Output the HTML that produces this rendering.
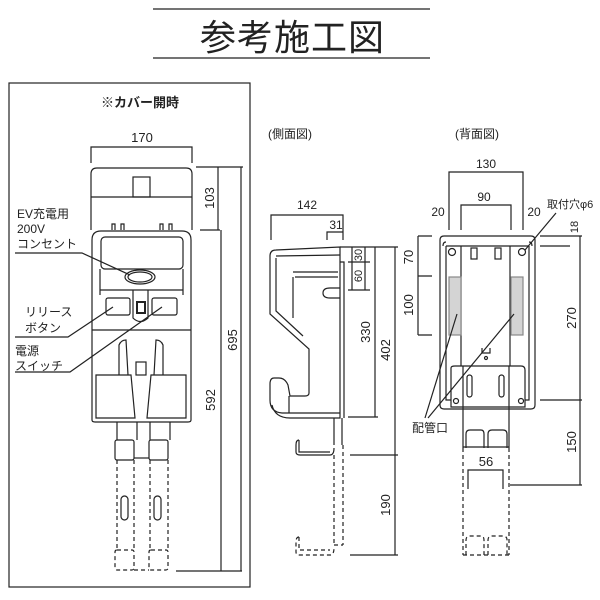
<!DOCTYPE html>
<html><head><meta charset="utf-8"><style>
html,body{margin:0;padding:0;background:#fff}
svg{display:block}
text{font-family:"Liberation Sans","Noto Sans CJK JP",sans-serif;fill:#222}
</style></head><body>
<svg width="600" height="600" viewBox="0 0 600 600" xmlns="http://www.w3.org/2000/svg">
<g stroke="#222" stroke-width="1.2" fill="none">
<!-- title lines -->
<line x1="153" y1="9" x2="430" y2="9"/>
<line x1="153" y1="58" x2="430" y2="58"/>
<!-- left box -->
<rect x="9" y="83" width="241" height="504"/>

<!-- FRONT VIEW -->
<polyline points="91,163 91,147 192,147 192,163"/>
<path d="M91,230 L91,174 Q91,168 97,168 L186,168 Q192,168 192,174 L192,230"/>
<line x1="91" y1="197" x2="192" y2="197"/>
<rect x="133" y="177" width="17" height="20"/>
<path d="M112,230v-6h3v6M121,230v-6h3v6M160,230v-6h3v6M169,230v-6h3v6"/>
<path d="M92,420 L92,240 Q92,231 101,231 L182,231 Q191,231 191,240 L191,420 Q191,422 188,422 L95,422 Q92,422 92,420Z"/>
<rect x="101" y="237" width="82" height="32" rx="4"/>
<path d="M100,269 L100,295 M183,269 L183,295 M100,290 L183,290"/>
<ellipse cx="140" cy="277" rx="15" ry="7"/>
<ellipse cx="140" cy="277" rx="12" ry="5"/>
<rect x="106" y="298" width="24" height="17" rx="2"/>
<rect x="152" y="298" width="25" height="17" rx="2"/>
<rect x="137" y="302" width="8" height="11" stroke-width="2"/>
<path d="M92,330 L191,330 M133,290 L133,318 Q140,325 148,318 L148,290"/>
<path d="M119,375 L119,345 Q121,340 126,340 L128,375 M163,375 L163,345 Q161,340 156,340 L154,375"/>
<rect x="136" y="362" width="10" height="13"/>
<path d="M96,375 L131,375 L135,418 L96,418Z M186,375 L151,375 L147,418 L186,418Z"/>
<path d="M117,422 V440 M137,422 V440 M150,422 V440 M170,422 V440"/>
<rect x="115" y="440" width="19" height="20" rx="2"/>
<rect x="149" y="440" width="19" height="20" rx="2"/>
<line x1="134" y1="458" x2="149" y2="458"/>
<g stroke-dasharray="4,3">
<path d="M117,460 V550 M134,460 V550 M150,460 V550 M168,460 V550"/>
<rect x="115" y="550" width="19" height="20" rx="2"/>
<rect x="149" y="550" width="19" height="20" rx="2"/>
<line x1="134" y1="570" x2="149" y2="570"/>
</g>
<rect x="121" y="496" width="7" height="24" rx="3.5"/>
<rect x="154" y="496" width="7" height="24" rx="3.5"/>
<!-- front dims -->
<line x1="196" y1="167" x2="243" y2="167"/>
<line x1="200" y1="230" x2="220" y2="230"/>
<line x1="218" y1="167" x2="218" y2="230"/>
<line x1="241" y1="167" x2="241" y2="571"/>
<line x1="221" y1="230" x2="221" y2="571"/>
<line x1="176" y1="571" x2="242" y2="571"/>
<!-- leaders -->
<polyline points="15,253 82,253 130,275"/>
<polyline points="15,337 68,337 113,307"/>
<polyline points="15,372 70,372 162,307"/>

<!-- SIDE VIEW -->
<polyline points="271,240 271,215 343,215 343,240"/>
<polyline points="327,240 327,232 343,232"/>
<path d="M270,256 Q270,250 276,250 L340,247 L340,418 L290,418 Q275,418 272,405"/>
<line x1="276" y1="256" x2="340" y2="255"/>
<path d="M270,256 L270,314 L309,349 L309,393 Q309,396 305,396 L290,396 L288,385 Q285,378 279,378 L274,378 Q270,378 270,384 L270,400 Q270,412 282,413 L340,413"/>
<path d="M276,258 L276,311 L303,336 M293,277 L293,318 M293,272 L338,272 M295,277 L338,277"/>
<path d="M340,262 L344,262 L344,418"/>
<path d="M340,298 L330,298 Q323,298 323,293 Q323,288 330,288 L340,288"/>
<line x1="289" y1="396" x2="289" y2="413"/>
<path d="M334,418 V445 M342,418 V445"/>
<path d="M299,440 Q296,440 296,445 L296,452 Q296,455 300,455 L330,455 Q334,455 334,448 M299,440 L299,452 L330,452"/>
<g stroke-dasharray="4,3">
<path d="M334,455 V545 M343,445 V545 M334,545 L343,545"/>
<path d="M299,537 Q296,537 296,542 L296,552 Q296,555 300,555 L330,555 Q334,555 334,548 M299,537 L299,550 L330,550"/>
</g>
<!-- side dims -->
<path d="M348,247 H378 M348,262 H370 M348,290 H370 M352,247 V290 M365,247 V290 M348,417 H378 M375,247 V417 M340,247 H398 M395,247 V555 M350,455 H398 M350,555 H398"/>

<!-- BACK VIEW -->
<polyline points="449,230 449,172 523,172 523,230"/>
<polyline points="461,230 461,205 511,205 511,230"/>
<path d="M440,240 Q440,236 444,236 L531,236 Q535,236 535,240 L535,405 Q535,409 531,409 L444,409 Q440,409 440,405Z"/>
<path d="M446,246 L446,400 L529,400 L529,246 M446,246 L529,246"/>
<path d="M461,246 V400 M510,246 V400"/>
<path d="M446,242 q-3,0 -3,4 M529,242 q3,0 3,4"/>
<circle cx="452" cy="252" r="3.5"/>
<circle cx="522" cy="252" r="3.5"/>
<rect x="449" y="277" width="12" height="58" fill="#d4d4d4" stroke="#888"/>
<rect x="511" y="277" width="12" height="58" fill="#d4d4d4" stroke="#888"/>
<rect x="471" y="248" width="6" height="11"/>
<rect x="495" y="248" width="6" height="11"/>
<path d="M482,348 v5 h8 v-5"/>
<circle cx="486" cy="358" r="1.5"/>
<path d="M451,368 Q451,366 455,366 L521,366 Q525,366 525,370 L525,407 L451,407Z" fill="#fff"/>
<path d="M463,366 V448 M509,366 V448"/>
<rect x="467" y="375" width="5" height="22" rx="2.5"/>
<rect x="499" y="375" width="5" height="22" rx="2.5"/>
<circle cx="456" cy="401" r="2.5"/><circle cx="521" cy="401" r="2.5"/>
<path d="M466,448 V434 Q466,430 470,430 L481,430 Q484,430 484,434 V448 M488,448 V434 Q488,430 492,430 L503,430 Q507,430 507,434 V448 M463,447 H509"/>
<g stroke-dasharray="4,3">
<path d="M463,448 V555 M509,448 V555 M463,555 H509"/>
<path d="M466,555 V540 Q466,536 470,536 L481,536 Q484,536 484,540 V555 M488,555 V540 Q488,536 492,536 L503,536 Q507,536 507,540 V555"/>
</g>
<polyline points="468,489 468,470 503,470 503,489"/>
<!-- back dims -->
<path d="M418,236 H432 M418,276 H432 M418,335 H432 M418,236 V335"/>
<path d="M540,236 H582 M540,246 H570 M540,400 H582 M580,236 V485 M510,485 H582"/>
<line x1="556" y1="213" x2="525" y2="250"/>
<polyline points="457,314 425,418"/>
<polyline points="514,314 428,418"/>
</g>

<!-- TEXT -->
<text x="200" y="50" font-size="36" letter-spacing="1">参考施工図</text>
<text x="140" y="107" font-size="13" font-weight="bold" text-anchor="middle">※カバー開時</text>
<text x="142" y="142" font-size="13" text-anchor="middle">170</text>
<text x="17" y="218" font-size="12">EV充電用</text>
<text x="17" y="233" font-size="12">200V</text>
<text x="17" y="248" font-size="12">コンセント</text>
<text x="25" y="316" font-size="12">リリース</text>
<text x="25" y="332" font-size="12">ボタン</text>
<text x="15" y="355" font-size="12">電源</text>
<text x="15" y="370" font-size="12">スイッチ</text>
<text font-size="13" text-anchor="middle" transform="translate(214,198) rotate(-90)">103</text>
<text font-size="13" text-anchor="middle" transform="translate(237,340) rotate(-90)">695</text>
<text font-size="13" text-anchor="middle" transform="translate(215,400) rotate(-90)">592</text>

<text x="268" y="138" font-size="12">(側面図)</text>
<text x="307" y="209" font-size="12" text-anchor="middle">142</text>
<text x="336" y="229" font-size="12" text-anchor="middle">31</text>
<text font-size="11" text-anchor="middle" transform="translate(362,255) rotate(-90)">30</text>
<text font-size="11" text-anchor="middle" transform="translate(362,276) rotate(-90)">60</text>
<text font-size="13" text-anchor="middle" transform="translate(370,332) rotate(-90)">330</text>
<text font-size="13" text-anchor="middle" transform="translate(390,350) rotate(-90)">402</text>
<text font-size="13" text-anchor="middle" transform="translate(390,505) rotate(-90)">190</text>

<text x="455" y="138" font-size="12">(背面図)</text>
<text x="486" y="168" font-size="12" text-anchor="middle">130</text>
<text x="484" y="201" font-size="12" text-anchor="middle">90</text>
<text x="438" y="216" font-size="12" text-anchor="middle">20</text>
<text x="534" y="216" font-size="12" text-anchor="middle">20</text>
<text x="547" y="208" font-size="11">取付穴φ6</text>
<text font-size="11" text-anchor="middle" transform="translate(578,227) rotate(-90)">18</text>
<text font-size="13" text-anchor="middle" transform="translate(413,257) rotate(-90)">70</text>
<text font-size="13" text-anchor="middle" transform="translate(413,305) rotate(-90)">100</text>
<text font-size="13" text-anchor="middle" transform="translate(576,318) rotate(-90)">270</text>
<text font-size="13" text-anchor="middle" transform="translate(576,442) rotate(-90)">150</text>
<text x="412" y="432" font-size="12">配管口</text>
<text x="486" y="466" font-size="13" text-anchor="middle">56</text>
</svg>
</body></html>
